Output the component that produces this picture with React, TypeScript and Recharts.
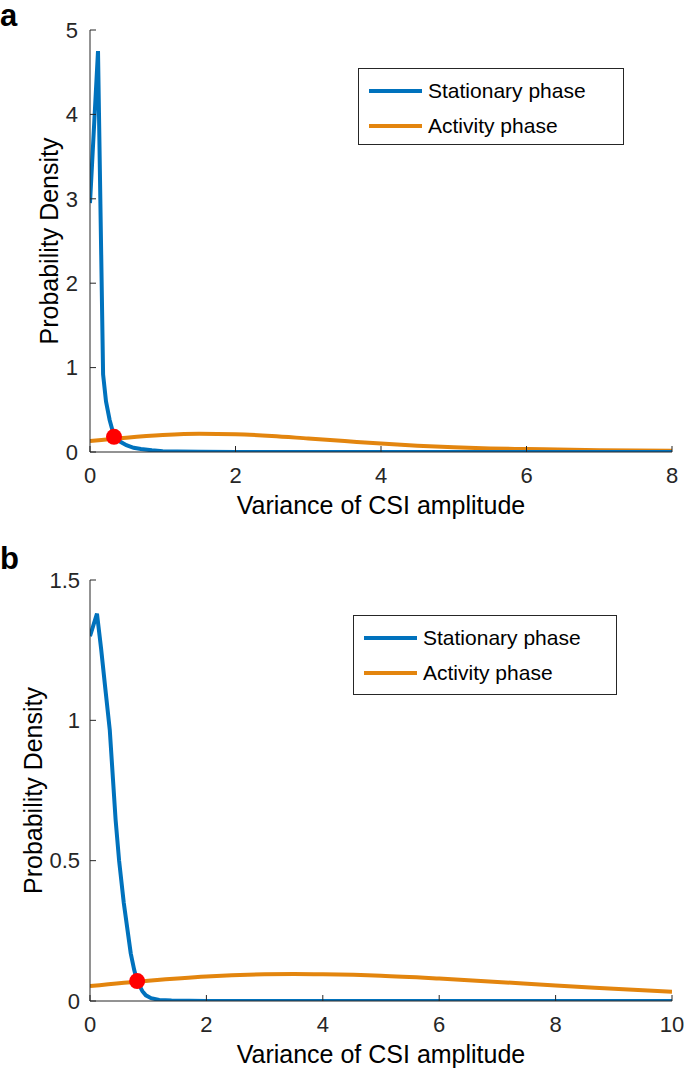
import React from "react";
import {
  LineChart,
  Line,
  XAxis,
  YAxis,
  ReferenceDot,
} from "recharts";

// panel a
const statXA = [0, 0.11, 0.18, 0.22, 0.27, 0.33, 0.4, 0.5, 0.6, 0.7, 0.85, 1.0, 1.2, 1.5, 2, 3, 4, 5, 6, 7, 8];
const statYA = [2.95, 4.75, 0.92, 0.6, 0.38, 0.19, 0.13, 0.08, 0.05, 0.035, 0.02, 0.01, 0.005, 0.002, 0.001, 0, 0, 0, 0, 0, 0];
const actXA = [0, 0.5, 1, 1.5, 2, 2.5, 3, 3.5, 4, 4.5, 5, 5.5, 6, 7, 8];
const actYA = [0.13, 0.17, 0.2, 0.215, 0.21, 0.19, 0.16, 0.13, 0.1, 0.075, 0.055, 0.042, 0.035, 0.022, 0.015];
const crossA = { x: 0.33, y: 0.18 };
const xTicksA = [0, 2, 4, 6, 8];
const yTicksA = [0, 1, 2, 3, 4, 5];

// panel b
const statXB = [0, 0.12, 0.19, 0.27, 0.34, 0.44, 0.5, 0.58, 0.7, 0.76, 0.81, 0.9, 0.96, 1.05, 1.19, 1.4, 1.7, 2, 3, 4, 6, 8, 10];
const statYB = [1.3, 1.38, 1.257, 1.1, 0.965, 0.645, 0.5, 0.35, 0.17, 0.11, 0.071, 0.035, 0.02, 0.01, 0.004, 0.002, 0.001, 0, 0, 0, 0, 0, 0];
const actXB = [0, 1, 2, 3, 3.5, 4, 5, 6, 7, 8, 9, 10];
const actYB = [0.053, 0.072, 0.087, 0.095, 0.096, 0.095, 0.09, 0.08, 0.068, 0.055, 0.044, 0.033];
const crossB = { x: 0.81, y: 0.071 };
const xTicksB = [0, 2, 4, 6, 8, 10];
const yTicksB = [0, 0.5, 1, 1.5];

const seriesNames = ["Stationary phase", "Activity phase"];

const BLUE = "#0072BD";
const ORANGE = "#E3850E";
const AXIS = "#262626";
const FONT = "'Liberation Sans', Arial, Helvetica, sans-serif";

const toPoints = (xs: number[], ys: number[]) => xs.map((x, i) => ({ x, y: ys[i] }));

type PanelProps = {
  height: number;
  marginTop: number;
  marginBottom: number;
  xMax: number;
  yMax: number;
  xTicks: number[];
  yTicks: number[];
  stat: { x: number; y: number }[];
  act: { x: number; y: number }[];
  cross: { x: number; y: number };
  yTickMargin: number;
  yLabelOffset: number;
};

function Panel({
  height,
  marginTop,
  marginBottom,
  xMax,
  yMax,
  xTicks,
  yTicks,
  stat,
  act,
  cross,
  yTickMargin,
  yLabelOffset,
}: PanelProps) {
  const tickStyle = { fill: AXIS, fontSize: 22, fontFamily: FONT };
  return (
    <LineChart
      width={685}
      height={height}
      margin={{ top: marginTop, right: 13, left: 40, bottom: marginBottom }}
    >
      <XAxis
        dataKey="x"
        type="number"
        domain={[0, xMax]}
        ticks={xTicks}
        allowDataOverflow
        stroke={AXIS}
        tickSize={-6}
        tickMargin={21}
        tick={tickStyle}
        height={40}
        label={{
          value: "Variance of CSI amplitude",
          position: "bottom",
          offset: 4,
          style: { fill: "#000", fontSize: 25, fontFamily: FONT },
        }}
      />
      <XAxis
        xAxisId="top"
        orientation="top"
        type="number"
        domain={[0, xMax]}
        ticks={xTicks}
        allowDataOverflow
        stroke={AXIS}
        tickSize={-6}
        tick={false}
        height={0}
      />
      <YAxis
        type="number"
        domain={[0, yMax]}
        ticks={yTicks}
        allowDataOverflow
        stroke={AXIS}
        tickSize={-6}
        tickMargin={yTickMargin}
        tick={tickStyle}
        width={50}
        label={{
          value: "Probability Density",
          angle: -90,
          position: "insideLeft",
          offset: yLabelOffset,
          style: { fill: "#000", fontSize: 25, fontFamily: FONT, textAnchor: "middle" },
        }}
      />
      <YAxis
        yAxisId="right"
        orientation="right"
        type="number"
        domain={[0, yMax]}
        ticks={yTicks}
        allowDataOverflow
        stroke={AXIS}
        tickSize={-6}
        tick={false}
        width={0}
      />
      <Line
        data={act}
        dataKey="y"
        type="monotone"
        stroke={ORANGE}
        strokeWidth={4}
        dot={false}
        isAnimationActive={false}
      />
      <Line
        data={stat}
        dataKey="y"
        type="linear"
        stroke={BLUE}
        strokeWidth={4}
        dot={false}
        isAnimationActive={false}
      />
      <ReferenceDot x={cross.x} y={cross.y} r={8} fill="#FF0000" stroke="none" />
    </LineChart>
  );
}

function LegendBox({ left, top, width, height }: { left: number; top: number; width: number; height: number }) {
  const colors = [BLUE, ORANGE];
  return (
    <div
      style={{
        position: "absolute",
        left,
        top,
        width,
        height,
        boxSizing: "border-box",
        border: `1.5px solid ${AXIS}`,
        background: "#fff",
        fontFamily: FONT,
        fontSize: 21,
        color: "#000",
        paddingTop: 4,
      }}
    >
      {seriesNames.map((name, i) => (
        <div key={name} style={{ display: "flex", alignItems: "center", height: 35 }}>
          <div style={{ width: 53, height: 4, background: colors[i], marginLeft: 10, marginRight: 6 }} />
          <span>{name}</span>
        </div>
      ))}
    </div>
  );
}

const panelLabel: React.CSSProperties = {
  position: "absolute",
  left: 0,
  fontFamily: FONT,
  fontWeight: "bold",
  fontSize: 31,
  lineHeight: 1,
};

export default function App() {
  return (
    <div style={{ position: "absolute", left: 0, top: 0, width: 685, height: 1073, background: "#fff" }}>
      <div style={{ position: "absolute", left: 0, top: 0 }}>
        <Panel
          height={530}
          marginTop={30}
          marginBottom={38}
          xMax={8}
          yMax={5}
          xTicks={xTicksA}
          yTicks={yTicksA}
          stat={toPoints(statXA, statYA)}
          act={toPoints(actXA, actYA)}
          cross={crossA}
          yTickMargin={18}
          yLabelOffset={9}
        />
      </div>
      <div style={{ position: "absolute", left: 0, top: 530 }}>
        <Panel
          height={543}
          marginTop={50}
          marginBottom={32}
          xMax={10}
          yMax={1.5}
          xTicks={xTicksB}
          yTicks={yTicksB}
          stat={toPoints(statXB, statYB)}
          act={toPoints(actXB, actYB)}
          cross={crossB}
          yTickMargin={16}
          yLabelOffset={-7}
        />
      </div>
      <LegendBox left={358} top={68} width={266} height={77} />
      <LegendBox left={353} top={615} width={264} height={80} />
      <div style={{ ...panelLabel, top: 0 }}>a</div>
      <div style={{ ...panelLabel, top: 543 }}>b</div>
    </div>
  );
}
